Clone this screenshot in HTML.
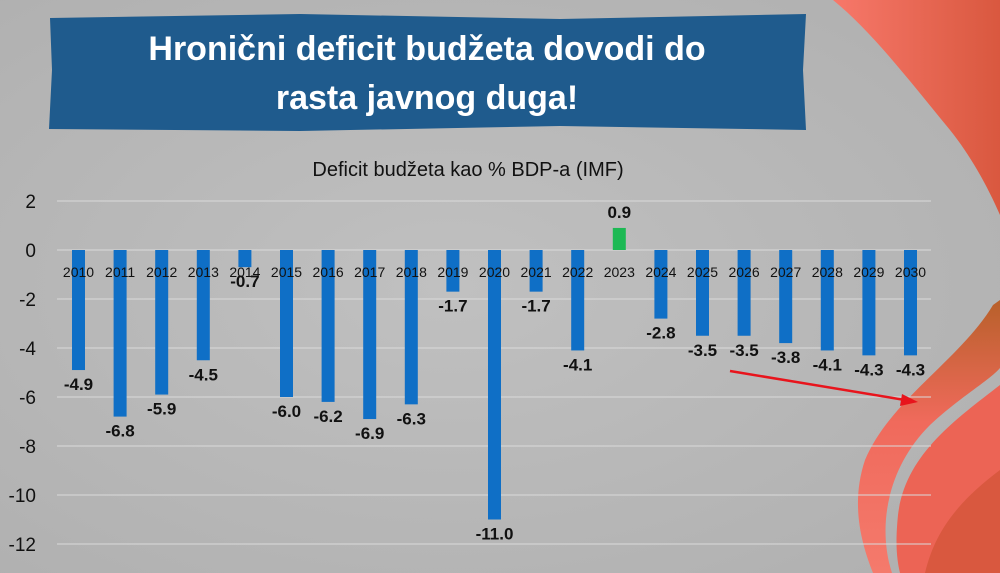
<!DOCTYPE html>
<html><head><meta charset="utf-8">
<style>
html,body{margin:0;padding:0;}
body{width:1000px;height:573px;overflow:hidden;background:#b9b9b9;font-family:"Liberation Sans",sans-serif;}
svg{display:block}
</style></head>
<body>
<svg width="1000" height="573" viewBox="0 0 1000 573">
<defs>
<radialGradient id="bg" cx="45%" cy="50%" r="70%"><stop offset="0" stop-color="#c0c0c0"/><stop offset="1" stop-color="#b0b0b0"/></radialGradient>
<linearGradient id="rib" x1="0" y1="0" x2="1" y2="0"><stop offset="0" stop-color="#f7786a"/><stop offset="1" stop-color="#d9583f"/></linearGradient>
<linearGradient id="rib2" x1="0" y1="0" x2="0" y2="1"><stop offset="0" stop-color="#b8602a"/><stop offset="0.45" stop-color="#f06a5c"/><stop offset="1" stop-color="#f47a6c"/></linearGradient>
</defs>
<rect width="1000" height="573" fill="url(#bg)"/>
<g>
<path d="M833,0 C870,30 905,75 950,130 C970,155 987,185 1000,215 L1000,0 Z" fill="url(#rib)"/>
<path d="M993,305 C960,360 890,400 865,460 C850,505 862,545 873,573 L892,573 C878,530 885,470 930,425 C960,397 990,380 1000,368 L1000,300 Z" fill="url(#rib2)"/>
<path d="M1000,385 C955,420 905,455 898,515 C895,545 897,560 900,573 L1000,573 Z" fill="#ec6455"/>
<path d="M1000,470 C960,500 935,530 925,573 L1000,573 Z" fill="#d9583f"/>
</g>
<path d="M50,18 L300,14 L560,19 L806,14 L803,70 L806,130 L560,126 L300,131 L49,129 L52,70 Z" fill="#1f5b8d"/>
<text x="427" y="60" text-anchor="middle" font-size="34" font-weight="bold" fill="#fff">Hronični deficit budžeta dovodi do</text>
<text x="427" y="109" text-anchor="middle" font-size="34" font-weight="bold" fill="#fff">rasta javnog duga!</text>
<text x="468" y="176" text-anchor="middle" font-size="20" fill="#111">Deficit budžeta kao % BDP-a (IMF)</text>
<g id="grid"></g><g id="bars"></g><g id="labels"></g>
<g>
<line x1="730" y1="371" x2="905" y2="400" stroke="#e8141c" stroke-width="2.5"/>
<polygon points="918,402 902,394 900,406" fill="#e8141c"/>
</g>
</svg>
<script>
const years=["2010","2011","2012","2013","2014","2015","2016","2017","2018","2019","2020","2021","2022","2023","2024","2025","2026","2027","2028","2029","2030"];
const values=[-4.9,-6.8,-5.9,-4.5,-0.7,-6.0,-6.2,-6.9,-6.3,-1.7,-11.0,-1.7,-4.1,0.9,-2.8,-3.5,-3.5,-3.8,-4.1,-4.3,-4.3];
const yTicks=[2,0,-2,-4,-6,-8,-10,-12];
const NS="http://www.w3.org/2000/svg";
const y0=250,ppu=24.5,x0=78.5,step=41.6,bw=13;
const Y=v=>y0-v*ppu, X=i=>x0+i*step;
const g=document.getElementById('grid'),b=document.getElementById('bars'),l=document.getElementById('labels');
function mk(t,a,p){const e=document.createElementNS(NS,t);for(const k in a)e.setAttribute(k,a[k]);p.appendChild(e);return e;}
yTicks.forEach(v=>{
 const ln=mk('line',{x1:57,x2:931,y1:Y(v),y2:Y(v),stroke:'#dadada','stroke-width':1},g);
 
 
 const t=mk('text',{x:36,y:Y(v)+7,'text-anchor':'end','font-size':19,fill:'#111'},g);
 t.textContent=v;
 
 
});
values.forEach((v,i)=>{
 const top=Math.min(Y(v),y0),h=Math.abs(Y(v)-y0);
 const r=mk('rect',{x:X(i)-bw/2,y:top,width:bw,height:h,fill:v>=0?'#1db954':'#0f6fc6'},b);
 
 
 const yl=mk('text',{x:X(i),y:277,'text-anchor':'middle','font-size':14,fill:'#111'},l);
 yl.textContent=years[i];
 
 
 const vl=mk('text',{x:X(i),y:v>=0?Y(v)-10:Y(v)+20,'text-anchor':'middle','font-size':17,'font-weight':'bold',fill:'#111'},l);
 vl.textContent=v.toFixed(1);
 
 
});
</script>
</body></html>
